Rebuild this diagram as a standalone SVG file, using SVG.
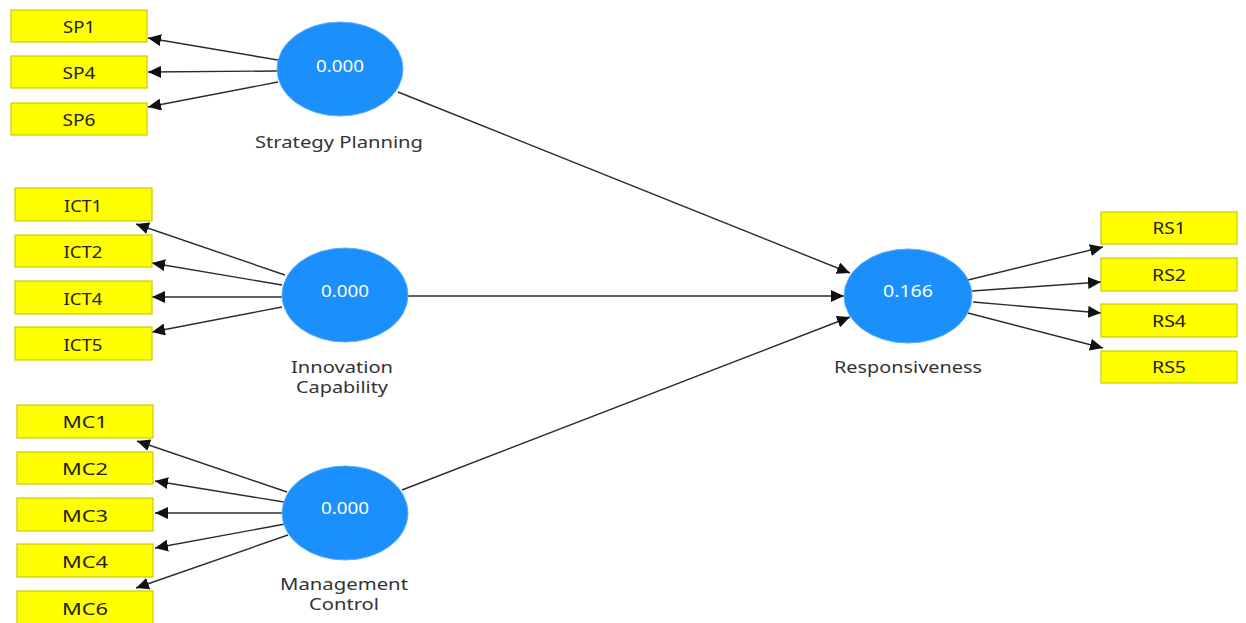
<svg xmlns="http://www.w3.org/2000/svg" width="1246" height="623" viewBox="0 0 1246 623">
<style>
.box{fill:#ffff00;stroke:#cccc00;stroke-width:1.2}
.lv{fill:#1b8ffb;stroke:#5aaeff;stroke-width:1}
text{font-family:"Noto Sans","Open Sans",sans-serif;text-anchor:middle}
.bt{font-size:16px;fill:#222}
.ct{font-size:16px;fill:#ffffff}
.lt{font-size:16px;fill:#333}
.c{stroke:#2b2b2b;stroke-width:1.4;fill:none;marker-end:url(#ah)}
</style>
<defs>
<marker id="ah" markerUnits="userSpaceOnUse" markerWidth="14" markerHeight="12" refX="13" refY="6" orient="auto">
<path d="M0,0 L13,6 L0,12 z" fill="#111"/>
</marker>
</defs>
<rect width="1246" height="623" fill="#ffffff"/>
<g id="connectors">
<line class="c" x1="278" y1="60" x2="148" y2="38"/>
<line class="c" x1="277" y1="71" x2="148" y2="72"/>
<line class="c" x1="278" y1="82" x2="148" y2="107"/>
<line class="c" x1="285" y1="275" x2="136" y2="224"/>
<line class="c" x1="282" y1="285" x2="152" y2="263"/>
<line class="c" x1="282" y1="297" x2="152" y2="297"/>
<line class="c" x1="282" y1="307" x2="152" y2="332"/>
<line class="c" x1="287" y1="492" x2="137" y2="441"/>
<line class="c" x1="284" y1="502" x2="155" y2="481"/>
<line class="c" x1="283" y1="513" x2="155" y2="513"/>
<line class="c" x1="285" y1="524" x2="155" y2="548"/>
<line class="c" x1="288" y1="535" x2="136" y2="588"/>
<line class="c" x1="968" y1="280" x2="1103" y2="247"/>
<line class="c" x1="972" y1="291" x2="1101" y2="282"/>
<line class="c" x1="973" y1="302" x2="1101" y2="313"/>
<line class="c" x1="968" y1="313" x2="1103" y2="348"/>
<line class="c" x1="398" y1="92" x2="850" y2="273"/>
<line class="c" x1="408" y1="296" x2="844" y2="296"/>
<line class="c" x1="402" y1="490" x2="850" y2="317"/>
</g>
<g id="SP1"><rect class="box" x="11" y="10" width="136" height="32"/><text class="bt" x="79" y="33" textLength="32" lengthAdjust="spacingAndGlyphs">SP1</text></g>
<g id="SP4"><rect class="box" x="11" y="56" width="136" height="32"/><text class="bt" x="79" y="79" textLength="33" lengthAdjust="spacingAndGlyphs">SP4</text></g>
<g id="SP6"><rect class="box" x="11" y="103" width="136" height="32"/><text class="bt" x="79" y="126" textLength="33" lengthAdjust="spacingAndGlyphs">SP6</text></g>
<g id="ICT1"><rect class="box" x="15" y="188" width="137" height="33"/><text class="bt" x="83" y="212" textLength="38" lengthAdjust="spacingAndGlyphs">ICT1</text></g>
<g id="ICT2"><rect class="box" x="15" y="235" width="137" height="32"/><text class="bt" x="83" y="258" textLength="39" lengthAdjust="spacingAndGlyphs">ICT2</text></g>
<g id="ICT4"><rect class="box" x="15" y="281" width="137" height="33"/><text class="bt" x="83" y="305" textLength="39" lengthAdjust="spacingAndGlyphs">ICT4</text></g>
<g id="ICT5"><rect class="box" x="15" y="327" width="137" height="33"/><text class="bt" x="83" y="351" textLength="39" lengthAdjust="spacingAndGlyphs">ICT5</text></g>
<g id="MC1"><rect class="box" x="17" y="405" width="136" height="33"/><text class="bt" x="85" y="428" textLength="45" lengthAdjust="spacingAndGlyphs">MC1</text></g>
<g id="MC2"><rect class="box" x="17" y="452" width="136" height="32"/><text class="bt" x="85" y="475" textLength="46" lengthAdjust="spacingAndGlyphs">MC2</text></g>
<g id="MC3"><rect class="box" x="17" y="498" width="136" height="33"/><text class="bt" x="85" y="522" textLength="46" lengthAdjust="spacingAndGlyphs">MC3</text></g>
<g id="MC4"><rect class="box" x="17" y="544" width="136" height="33"/><text class="bt" x="85" y="568" textLength="46" lengthAdjust="spacingAndGlyphs">MC4</text></g>
<g id="MC6"><rect class="box" x="17" y="591" width="136" height="33"/><text class="bt" x="85" y="615" textLength="46" lengthAdjust="spacingAndGlyphs">MC6</text></g>
<g id="RS1"><rect class="box" x="1101" y="212" width="136" height="32"/><text class="bt" x="1169" y="234" textLength="33" lengthAdjust="spacingAndGlyphs">RS1</text></g>
<g id="RS2"><rect class="box" x="1101" y="258" width="136" height="33"/><text class="bt" x="1169" y="281" textLength="34" lengthAdjust="spacingAndGlyphs">RS2</text></g>
<g id="RS4"><rect class="box" x="1101" y="304" width="136" height="33"/><text class="bt" x="1169" y="327" textLength="34" lengthAdjust="spacingAndGlyphs">RS4</text></g>
<g id="RS5"><rect class="box" x="1101" y="351" width="136" height="32"/><text class="bt" x="1169" y="373" textLength="34" lengthAdjust="spacingAndGlyphs">RS5</text></g>
<g id="StrategyPlanning"><ellipse class="lv" cx="340" cy="69" rx="63" ry="47"/><text class="ct" x="340" y="72" textLength="48" lengthAdjust="spacingAndGlyphs">0.000</text><text class="lt" x="339" y="148" textLength="168" lengthAdjust="spacingAndGlyphs">Strategy Planning</text></g>
<g id="InnovationCapability"><ellipse class="lv" cx="345" cy="295" rx="63" ry="47"/><text class="ct" x="345" y="297" textLength="48" lengthAdjust="spacingAndGlyphs">0.000</text><text class="lt" x="342" y="373" textLength="102" lengthAdjust="spacingAndGlyphs">Innovation</text><text class="lt" x="342" y="393" textLength="92" lengthAdjust="spacingAndGlyphs">Capability</text></g>
<g id="ManagementControl"><ellipse class="lv" cx="345" cy="513" rx="63" ry="47"/><text class="ct" x="345" y="514" textLength="48" lengthAdjust="spacingAndGlyphs">0.000</text><text class="lt" x="344" y="590" textLength="128" lengthAdjust="spacingAndGlyphs">Management</text><text class="lt" x="344" y="610" textLength="70" lengthAdjust="spacingAndGlyphs">Control</text></g>
<g id="Responsiveness"><ellipse class="lv" cx="908" cy="296" rx="64" ry="47"/><text class="ct" x="908" y="297" textLength="50" lengthAdjust="spacingAndGlyphs">0.166</text><text class="lt" x="908" y="373" textLength="148" lengthAdjust="spacingAndGlyphs">Responsiveness</text></g>
</svg>
